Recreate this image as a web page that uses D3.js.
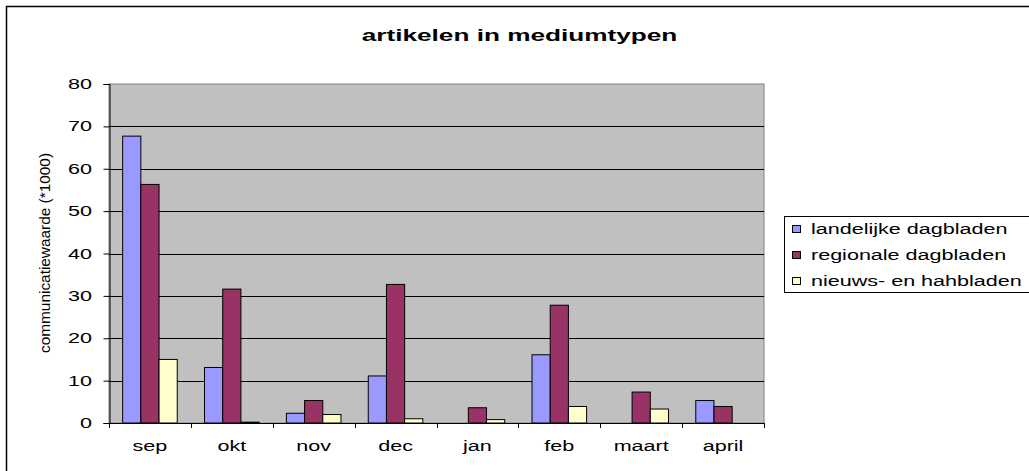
<!DOCTYPE html>
<html><head><meta charset="utf-8">
<script src="https://cdn.jsdelivr.net/npm/d3@7"></script>
<style>html,body{margin:0;padding:0;background:#fff;overflow:hidden}</style>
</head><body>
<svg id="c" width="1029" height="471"></svg>
<script>
const categories = ["sep","okt","nov","dec","jan","feb","maart","april"];
const seriesNames = ["landelijke dagbladen","regionale dagbladen","nieuws- en hahbladen"];
const landelijke = [67.7, 13.1, 2.3, 11.1, 0, 16.1, 0, 5.3];
const regionale  = [56.3, 31.6, 5.3, 32.7, 3.6, 27.8, 7.3, 3.9];
const nieuws     = [15.0, 0.2, 2.0, 1.0, 0.8, 3.9, 3.3, 0];
const yTicks = [0,10,20,30,40,50,60,70,80];
const colors = ["#9999ff","#993366","#ffffcc"];
const seriesValues = [landelijke, regionale, nieuws];

const svg = d3.select("#c");
const SX = 1.54;
const font = "Arial, 'Liberation Sans', sans-serif";
function stext(parent, x, y, str, size, anchor, weight){
  const g = parent.append("g").attr("transform", `translate(${x},${y}) scale(${SX},1)`);
  g.append("text").attr("x",0).attr("y",0).attr("text-anchor",anchor)
    .attr("font-family",font).attr("font-size",size).attr("font-weight",weight||"normal")
    .attr("fill","#000").text(str);
  return g;
}

// outer chart border
svg.append("rect").attr("x",6.5).attr("y",6.5).attr("width",1040).attr("height",480)
  .attr("fill","#fff").attr("stroke","#000").attr("stroke-width",1.5);

const L=109, R=764, T=84, B=423;
const x = d3.scaleBand().domain(categories).range([L,R]).padding(0);
const xs = d3.scaleBand().domain(d3.range(3)).range([0,x.bandwidth()]).paddingInner(0).paddingOuter(0.75);
const y = d3.scaleLinear().domain([0,80]).range([B,T]);

// plot area
svg.append("rect").attr("x",L).attr("y",T).attr("width",R-L).attr("height",B-T)
  .attr("fill","#c0c0c0").attr("stroke","#808080").attr("stroke-width",1);

// gridlines
svg.append("g").selectAll("line").data(yTicks.filter(d=>d>0 && d<80)).join("line")
  .attr("x1",L).attr("x2",R).attr("y1",d=>Math.round(y(d))+0.5).attr("y2",d=>Math.round(y(d))+0.5)
  .attr("stroke","#000").attr("stroke-width",1);

// y axis
const yAxis = d3.axisLeft(y).tickValues(yTicks).tickSize(6).tickFormat("");
const ya = svg.append("g").attr("transform",`translate(${L+0.5},0)`).call(yAxis);
ya.selectAll("path,line").attr("stroke","#000");
yTicks.forEach(t=>{ stext(svg, 92, y(t)+5, String(t), 14, "end"); });

// bars
const groups = svg.append("g").selectAll("g").data(categories).join("g")
  .attr("transform",c=>`translate(${x(c)},0)`);
groups.selectAll("rect").data((c,i)=>seriesValues.map((s,k)=>({k, v:s[i]})).filter(d=>d.v>0)).join("rect")
  .attr("x",d=>xs(d.k)).attr("width",xs.bandwidth())
  .attr("y",d=>y(d.v)).attr("height",d=>B-y(d.v))
  .attr("fill",d=>colors[d.k]).attr("stroke","#000").attr("stroke-width",1);

// x axis
const bounds = categories.map(c=>x(c)).concat([R]);
svg.append("line").attr("x1",L).attr("x2",R).attr("y1",B+0.5).attr("y2",B+0.5).attr("stroke","#000");
svg.append("g").selectAll("line").data(bounds).join("line")
  .attr("x1",d=>Math.round(d)+0.5).attr("x2",d=>Math.round(d)+0.5).attr("y1",B).attr("y2",B+5)
  .attr("stroke","#000");
categories.forEach(c=>{ stext(svg, x(c)+x.bandwidth()/2, 451, c, 14, "middle"); });

// title
stext(svg, 519.5, 41, "artikelen in mediumtypen", 17, "middle", "bold");

// y label
svg.append("text").attr("transform","translate(49.5,253) rotate(-90)")
  .attr("text-anchor","middle").attr("font-family",font).attr("font-size",15)
  .attr("textLength",200).attr("lengthAdjust","spacingAndGlyphs")
  .text("communicatiewaarde (*1000)");

// legend
svg.append("rect").attr("x",784.5).attr("y",216.5).attr("width",260).attr("height",76)
  .attr("fill","#fff").attr("stroke","#000").attr("stroke-width",1);
const leg = svg.append("g");
seriesNames.forEach((n,i)=>{
  const cy = 229 + i*26;
  leg.append("rect").attr("x",792.5).attr("y",cy-3.5).attr("width",8).attr("height",7)
    .attr("fill",colors[i]).attr("stroke","#000").attr("stroke-width",1);
  stext(leg, 811, cy+5, n, 14, "start");
});
</script>
</body></html>
